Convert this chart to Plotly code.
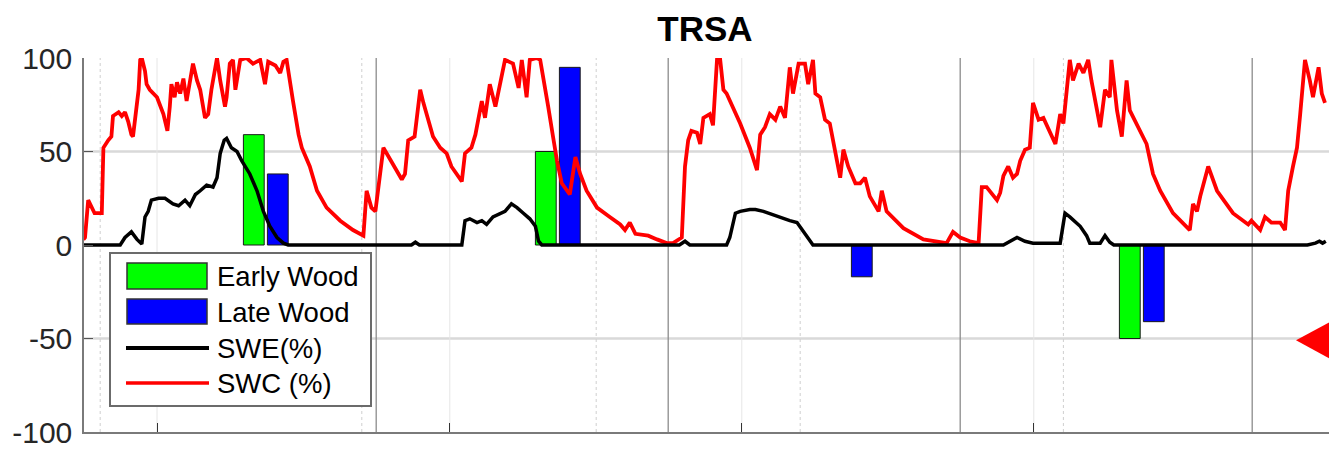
import pandas as pd
import plotly.graph_objects as go

# ---------------- data ----------------
START = "2011-10-01"          # day 0 of the day-offset arrays

swc_day = [0, 2, 6, 14, 23, 25, 31, 35, 37, 44,
           48, 52, 56, 60, 62, 65, 69, 71, 73, 77,
           79, 83, 92, 100, 105, 108, 110, 114, 117, 121,
           125, 129, 137, 142, 146, 152, 156, 160, 167, 171,
           177, 179, 183, 187, 190, 196, 204, 212, 221, 227,
           231, 240, 246, 250, 254, 262, 269, 273, 283, 292,
           304, 321, 337, 350, 354, 360, 365, 375, 387, 398,
           402, 406, 414, 421, 425, 437, 446, 454, 460, 473,
           477, 485, 490, 498, 502, 508, 515, 521, 527, 537,
           544, 548, 554, 558, 567, 571, 575, 581, 587, 592,
           598, 608, 615, 621, 629, 642, 658, 671, 677, 683,
           690, 706, 717, 729, 737, 748, 752, 756, 760, 767,
           771, 775, 783, 787, 792, 796, 800, 804, 821, 833,
           842, 846, 852, 858, 865, 871, 877, 883, 887, 894,
           902, 906, 912, 915, 921, 927, 933, 946, 950, 956,
           965, 971, 977, 983, 994, 998, 1004, 1025, 1050, 1079,
           1087, 1096, 1108, 1119, 1123, 1129, 1142, 1146, 1150, 1156,
           1162, 1167, 1171, 1177, 1183, 1187, 1194, 1200, 1215, 1221,
           1225, 1233, 1237, 1244, 1250, 1256, 1260, 1271, 1277, 1283,
           1285, 1292, 1298, 1304, 1308, 1321, 1329, 1337, 1346, 1362,
           1383, 1387, 1392, 1396, 1406, 1417, 1437, 1456, 1460, 1471,
           1477, 1485, 1496, 1502, 1506, 1512, 1517, 1521, 1527, 1533,
           1537, 1544, 1548, 1552]
swc_val = [3, 4, 24, 17, 17, 52, 56, 58, 69, 71,
           69, 71, 66, 59, 58, 68, 83, 99, 100, 93,
           86, 83, 79, 70, 61, 74, 86, 79, 87, 81,
           89, 77, 97, 88, 83, 68, 70, 83, 100, 88,
           74, 79, 97, 99, 83, 99, 100, 97, 99, 86,
           98, 96, 92, 98, 99, 77, 59, 52, 42, 29,
           20, 13, 8, 5, 29, 20, 18, 52, 43, 35,
           38, 56, 58, 83, 76, 58, 52, 49, 42, 34,
           49, 52, 59, 77, 68, 86, 74, 86, 99, 97,
           84, 99, 79, 99, 100, 99, 90, 74, 58, 45,
           33, 27, 47, 38, 29, 20, 15, 11, 8, 12,
           6, 5, 3, 1, 1, 4, 42, 56, 61, 60,
           54, 68, 70, 64, 99, 99, 83, 81, 65, 52,
           40, 59, 63, 70, 67, 74, 68, 95, 81, 97,
           97, 86, 99, 81, 79, 67, 65, 36, 51, 42,
           33, 33, 36, 26, 18, 29, 18, 9, 3, 1,
           7, 4, 2, 1, 31, 31, 24, 28, 37, 42,
           36, 38, 45, 51, 52, 76, 67, 68, 54, 70,
           65, 99, 88, 97, 92, 99, 88, 63, 83, 79,
           99, 72, 58, 88, 72, 61, 54, 38, 29, 17,
           8, 22, 18, 26, 42, 29, 17, 11, 13, 8,
           15, 12, 12, 8, 29, 42, 52, 70, 99, 88,
           79, 95, 81, 76]

swe_day = [0, 46, 52, 60, 67, 73, 77, 81, 85, 94,
           102, 112, 119, 127, 133, 140, 146, 154, 162, 167,
           171, 176, 179, 185, 192, 198, 208, 217, 225, 233,
           242, 250, 256, 410, 415, 420, 473, 477, 483, 492,
           498, 504, 512, 521, 527, 535, 542, 550, 558, 565,
           569, 573, 745, 752, 758, 804, 808, 815, 821, 833,
           840, 850, 862, 875, 883, 892, 900, 908, 912, 1150,
           1158, 1167, 1177, 1187, 1221, 1227, 1233, 1246, 1254, 1258,
           1271, 1277, 1283, 1288, 1530, 1540, 1545, 1549, 1553]
swe_val = [0, 0, 4, 7, 3, 0.5, 15, 18, 24, 25,
           25, 22, 21, 24, 21, 27, 29, 32, 31, 36,
           49, 56, 57, 52, 50, 45, 38, 29, 18, 10,
           4, 1, 0, 0, 1.5, 0, 0, 13, 14, 12,
           13, 11, 15, 17, 18, 22, 20, 17, 14, 10,
           2, 0, 0, 2, 0, 0, 4, 17, 18, 19,
           19, 18, 16, 14, 13, 12, 7, 2, 0, 0,
           2, 4, 2, 1, 1, 17, 15, 10, 5, 1,
           1, 5, 1.5, 0, 0, 1, 2, 1, 2]

years = [2012, 2013, 2014, 2015]
early_wood = [59, 50, 0, -50]
late_wood = [38, 95, -17, -41]

marker_level = -51            # red triangle on the right edge
y_ticks = [-100, -50, 0, 50, 100]

# ---------------- helpers ----------------
base = pd.Timestamp(START)
def to_date(days):
    return [base + pd.Timedelta(days=float(d)) for d in days]

PL, PR, PT, PB = 84, 1329, 58, 432      # plot-area pixel box
def pxx(p):
    return (p - PL) / (PR - PL)
def pyy(p):
    return (PB - p) / (PB - PT)

FONT = "Liberation Sans, Arial, sans-serif"
DAY_MS = 86400000.0

fig = go.Figure()

early_x = [pd.Timestamp(f"{y}-05-01") for y in years]
late_x = [pd.Timestamp(f"{y}-05-31") for y in years]

fig.add_trace(go.Bar(x=early_x, y=early_wood, width=[26 * DAY_MS] * len(years),
                     marker=dict(color="#00ff00", line=dict(color="#1a1a1a", width=1)),
                     name="Early Wood"))
fig.add_trace(go.Bar(x=late_x, y=late_wood, width=[26 * DAY_MS] * len(years),
                     marker=dict(color="#0000ff", line=dict(color="#1a1a1a", width=1)),
                     name="Late Wood"))
fig.add_trace(go.Scatter(x=to_date(swc_day), y=swc_val, mode="lines",
                         line=dict(color="#ff0000", width=3.8), name="SWC (%)"))
fig.add_trace(go.Scatter(x=to_date(swe_day), y=swe_val, mode="lines",
                         line=dict(color="#000000", width=3.5), name="SWE(%)"))

shapes = []
# horizontal grid at +/-50
for v in (50, -50):
    shapes.append(dict(type="line", xref="paper", yref="y", x0=0, x1=1, y0=v, y1=v,
                       line=dict(color="#d9d9d9", width=2.5), layer="below"))
# faint gridlines at Jan 1 ticks
for y in years:
    d = pd.Timestamp(f"{y}-01-01")
    shapes.append(dict(type="line", xref="x", yref="paper", x0=d, x1=d, y0=0, y1=1,
                       line=dict(color="#e6e6e6", width=1), layer="below"))
# faint dotted grid
for dd in (21, 348, 641, 896, 1225):
    d = base + pd.Timedelta(days=dd)
    shapes.append(dict(type="line", xref="x", yref="paper", x0=d, x1=d, y0=0, y1=1,
                       line=dict(color="#cfcfcf", width=1, dash="dot"), layer="below"))
# water-year separators (Oct 1)
for y in years:
    d = pd.Timestamp(f"{y}-10-01")
    shapes.append(dict(type="line", xref="x", yref="paper", x0=d, x1=d, y0=0, y1=1,
                       line=dict(color="#8c8c8c", width=1.3), layer="below"))

# red triangle marker at the right edge
tip = pxx(1296)
shapes.append(dict(type="path", xref="paper", yref="y",
                   path=(f"M {tip},{marker_level} L 1.0,{marker_level + 9.6} "
                         f"L 1.0,{marker_level - 9.6} Z"),
                   fillcolor="#ff0000", line=dict(width=0), layer="above"))

# custom legend (MATLAB style)
shapes.append(dict(type="rect", xref="paper", yref="paper",
                   x0=pxx(110), x1=pxx(371), y0=pyy(406), y1=pyy(253),
                   fillcolor="white", line=dict(color="#6b6b6b", width=2), layer="above"))
shapes.append(dict(type="rect", xref="paper", yref="paper",
                   x0=pxx(127), x1=pxx(207), y0=pyy(289), y1=pyy(263),
                   fillcolor="#00ff00", line=dict(color="#333333", width=1.5), layer="above"))
shapes.append(dict(type="rect", xref="paper", yref="paper",
                   x0=pxx(127), x1=pxx(207), y0=pyy(324), y1=pyy(299),
                   fillcolor="#0000ff", line=dict(color="#333333", width=1.5), layer="above"))
shapes.append(dict(type="line", xref="paper", yref="paper",
                   x0=pxx(126), x1=pxx(209), y0=pyy(348), y1=pyy(348),
                   line=dict(color="#000000", width=4), layer="above"))
shapes.append(dict(type="line", xref="paper", yref="paper",
                   x0=pxx(126), x1=pxx(209), y0=pyy(383), y1=pyy(383),
                   line=dict(color="#ff0000", width=3.5), layer="above"))

annotations = []
for label, ypix in (("Early Wood", 276), ("Late Wood", 312), ("SWE(%)", 348), ("SWC (%)", 383)):
    annotations.append(dict(xref="paper", yref="paper", x=pxx(215), y=pyy(ypix),
                            xanchor="left", yanchor="middle", showarrow=False,
                            text=label, font=dict(family=FONT, size=27.5, color="#000000")))

fig.update_layout(
    width=1329, height=449,
    margin=dict(l=PL, r=1329 - PR, t=PT, b=449 - PB, pad=0),
    paper_bgcolor="white", plot_bgcolor="white",
    showlegend=False, barmode="overlay",
    title=dict(text="<b>TRSA</b>", x=pxx(705), xref="paper", xanchor="center",
               y=1 - 29 / 449, yref="container", yanchor="middle",
               font=dict(family=FONT, size=35, color="#000000")),
    shapes=shapes, annotations=annotations,
    font=dict(family=FONT),
)

x0 = base + pd.Timedelta(days=0.75)
x1 = base + pd.Timedelta(days=1557)
fig.update_xaxes(type="date", range=[x0, x1], showgrid=False, zeroline=False,
                 showline=True, linecolor="#7a7a7a", linewidth=1.5,
                 tickvals=[pd.Timestamp(f"{y}-01-01") for y in years],
                 ticks="inside", ticklen=9, tickcolor="#333333", tickwidth=1.3,
                 showticklabels=False)
fig.update_yaxes(range=[-100, 100], autorange=False, showgrid=False, zeroline=False,
                 showline=True, linecolor="#7a7a7a", linewidth=1.5,
                 tickvals=y_ticks, ticktext=[str(v) for v in y_ticks],
                 ticks="inside", ticklen=9, tickcolor="#555555", tickwidth=1,
                 ticklabelstandoff=4,
                 tickfont=dict(family=FONT, size=30, color="#262626"))

fig.write_html("out.html")
